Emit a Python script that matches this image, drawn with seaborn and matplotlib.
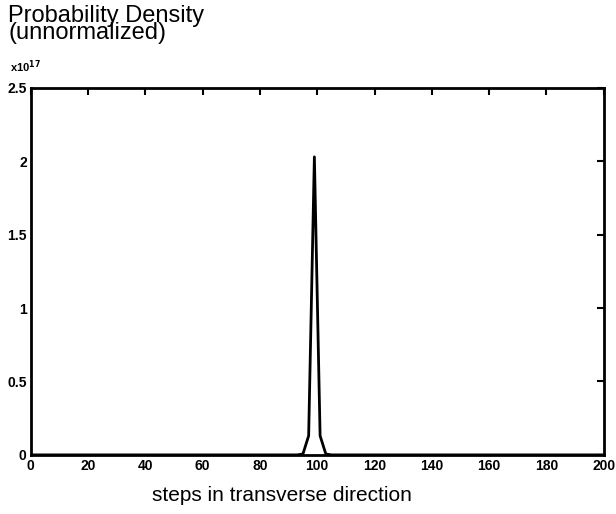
import numpy as np
import pandas as pd
import matplotlib
matplotlib.use("Agg")
import matplotlib.pyplot as plt
import seaborn as sns
from matplotlib.ticker import FuncFormatter

steps = [0, 93, 95, 97, 99, 101, 103, 105, 200]
density = [0.0, 0.0, 0.006e17, 0.13e17, 2.03e17, 0.13e17, 0.006e17, 0.0, 0.0]
xticks = [0, 20, 40, 60, 80, 100, 120, 140, 160, 180, 200]
yticks = [0, 0.5e17, 1e17, 1.5e17, 2e17, 2.5e17]

sns.set_theme(style="white")
plt.rcParams['font.family'] = ['Liberation Sans', 'DejaVu Sans']
plt.rcParams['text.color'] = 'black'
plt.rcParams['axes.labelcolor'] = 'black'

fig = plt.figure(figsize=(6.16, 5.14), dpi=100)
ax = fig.add_axes([0.050, 0.115, 0.930, 0.714])

df = pd.DataFrame({"step": steps, "density": density})
sns.lineplot(data=df, x="step", y="density", ax=ax, color="black", linewidth=2.0)

ax.set_xlim(0, 200)
ax.set_ylim(0, 2.5e17)
ax.set_xticks(xticks)
ax.set_yticks(yticks)
ax.yaxis.set_major_formatter(FuncFormatter(lambda v, p: "0" if v == 0 else f"{v/1e17:g}"))
ax.tick_params(direction="in", length=5, width=1.5, top=True, right=True,
               labelsize=10, pad=3, colors="black")
for lab in ax.get_xticklabels() + ax.get_yticklabels():
    lab.set_fontweight("bold")
for s in ax.spines.values():
    s.set_linewidth(2)
    s.set_color("black")

ax.set_xlabel("steps in transverse direction", fontsize=15)
ax.xaxis.set_label_coords(0.438, -0.085)
ax.set_ylabel("")

fig.text(0.013, 0.99, "Probability Density\n(unnormalized)", fontsize=17,
         va="top", ha="left", linespacing=0.72)
fig.text(0.017, 0.855, r"x10$^{\mathbf{17}}$", fontsize=8, fontweight="bold",
         va="bottom", ha="left")

fig.savefig("out.png", dpi=100)
